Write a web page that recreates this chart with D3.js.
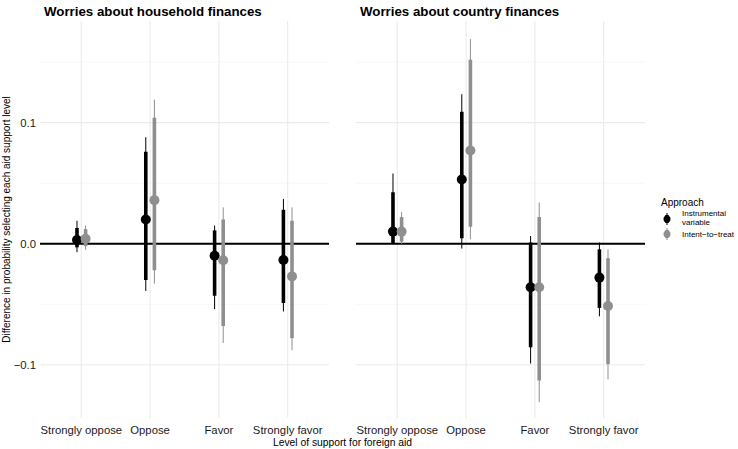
<!DOCTYPE html>
<html>
<head>
<meta charset="utf-8">
<script src="https://cdn.jsdelivr.net/npm/d3@7"></script>
<style>
body { margin: 0; background: #fff; }
svg { font-family: "Liberation Sans", Arial, sans-serif; }
</style>
</head>
<body>
<div id="chart"></div>
<script>
// chart size
var svgWidth = 738, svgHeight = 449;

// data
var panels = ["Worries about household finances", "Worries about country finances"];
var levels = ["Strongly oppose", "Oppose", "Favor", "Strongly favor"];
var approaches = ["Instrumental variable", "Intent-to-treat"];
var yTicks = [-0.1, 0.0, 0.1];

// estimate, thick (inner) interval, thin (outer) interval
// household finances
var hhIvEst   = [0.003, 0.020, -0.010, -0.0135];
var hhIvLo80  = [-0.003, -0.030, -0.043, -0.049];
var hhIvHi80  = [0.013, 0.076, 0.011, 0.028];
var hhIvLo95  = [-0.007, -0.039, -0.054, -0.056];
var hhIvHi95  = [0.019, 0.088, 0.015, 0.037];
var hhItEst   = [0.004, 0.036, -0.0137, -0.027];
var hhItLo80  = [-0.002, -0.022, -0.068, -0.078];
var hhItHi80  = [0.012, 0.104, 0.020, 0.019];
var hhItLo95  = [-0.005, -0.033, -0.082, -0.088];
var hhItHi95  = [0.015, 0.119, 0.030, 0.030];
// country finances
var ctIvEst   = [0.010, 0.053, -0.036, -0.028];
var ctIvLo80  = [0.0005, 0.0045, -0.0856, -0.053];
var ctIvHi80  = [0.0425, 0.109, 0.001, -0.0047];
var ctIvLo95  = [0.000, -0.004, -0.099, -0.060];
var ctIvHi95  = [0.058, 0.1235, 0.0064, 0.001];
var ctItEst   = [0.010, 0.077, -0.036, -0.0515];
var ctItLo80  = [0.0017, 0.014, -0.113, -0.0995];
var ctItHi80  = [0.022, 0.152, 0.022, -0.012];
var ctItLo95  = [0.000, 0.0036, -0.131, -0.112];
var ctItHi95  = [0.026, 0.169, 0.034, -0.0047];

var series = [
  [
    {est: hhIvEst, lo80: hhIvLo80, hi80: hhIvHi80, lo95: hhIvLo95, hi95: hhIvHi95},
    {est: hhItEst, lo80: hhItLo80, hi80: hhItHi80, lo95: hhItLo95, hi95: hhItHi95}
  ],
  [
    {est: ctIvEst, lo80: ctIvLo80, hi80: ctIvHi80, lo95: ctIvLo95, hi95: ctIvHi95},
    {est: ctItEst, lo80: ctItLo80, hi80: ctItHi80, lo95: ctItLo95, hi95: ctItHi95}
  ]
];

var colors = ["#000000", "#8f8f8f"];

var panelLeft = [40, 356];
var panelWidth = 289;
var panelTop = 21, panelBottom = 418;

var svg = d3.select("#chart")
  .append("svg")
  .attr("width", svgWidth)
  .attr("height", svgHeight);

var yScale = d3.scaleLinear()
  .domain([-0.144, 0.184])
  .range([panelBottom, panelTop]);

// side by side offset of the two approaches
var dodge = d3.scaleBand()
  .domain(approaches)
  .range([-8.6, 8.6])
  .paddingInner(0);

panels.forEach(function(title, p) {
  var xScale = d3.scalePoint()
    .domain(levels)
    .range([panelLeft[p], panelLeft[p] + panelWidth])
    .padding(0.6);

  var g = svg.append("g");

  // grid, minor then major
  var minor = [-0.05, 0.05, 0.15];
  g.selectAll(".minor").data(minor).enter().append("line")
    .attr("x1", panelLeft[p]).attr("x2", panelLeft[p] + panelWidth)
    .attr("y1", d => yScale(d)).attr("y2", d => yScale(d))
    .attr("stroke", "#f2f2f2").attr("stroke-width", 0.6);
  g.selectAll(".major").data(yTicks).enter().append("line")
    .attr("x1", panelLeft[p]).attr("x2", panelLeft[p] + panelWidth)
    .attr("y1", d => yScale(d)).attr("y2", d => yScale(d))
    .attr("stroke", "#ebebeb").attr("stroke-width", 1.1);
  g.selectAll(".vgrid").data(levels).enter().append("line")
    .attr("x1", d => xScale(d)).attr("x2", d => xScale(d))
    .attr("y1", panelTop).attr("y2", panelBottom)
    .attr("stroke", "#ebebeb").attr("stroke-width", 1.1);

  // zero line
  g.append("line")
    .attr("x1", panelLeft[p]).attr("x2", panelLeft[p] + panelWidth)
    .attr("y1", yScale(0)).attr("y2", yScale(0))
    .attr("stroke", "#000").attr("stroke-width", 2);

  // title
  g.append("text")
    .attr("x", panelLeft[p] + 4)
    .attr("y", 16)
    .attr("font-size", 13.3)
    .attr("font-weight", "bold")
    .attr("fill", "#000")
    .text(title);

  // x tick labels
  g.selectAll(".xlab").data(levels).enter().append("text")
    .attr("x", d => xScale(d))
    .attr("y", 434)
    .attr("text-anchor", "middle")
    .attr("font-size", 11.3)
    .attr("fill", "#1a1a1a")
    .text(d => d);

  series[p].forEach(function(s, k) {
    var col = colors[k];
    var off = dodge(approaches[k]) + dodge.bandwidth() / 2;
    var grp = g.append("g");
    levels.forEach(function(lv, i) {
      var x = xScale(lv) + off;
      grp.append("line")
        .attr("x1", x).attr("x2", x)
        .attr("y1", yScale(s.lo95[i])).attr("y2", yScale(s.hi95[i]))
        .attr("stroke", col).attr("stroke-width", 1);
      grp.append("line")
        .attr("x1", x).attr("x2", x)
        .attr("y1", yScale(s.lo80[i])).attr("y2", yScale(s.hi80[i]))
        .attr("stroke", col).attr("stroke-width", 3.6);
      grp.append("circle")
        .attr("cx", x).attr("cy", yScale(s.est[i]))
        .attr("r", 5)
        .attr("fill", col);
    });
  });
});

// y axis tick labels
svg.selectAll(".ylab").data(yTicks).enter().append("text")
  .attr("x", 36)
  .attr("y", d => yScale(d) + 4)
  .attr("text-anchor", "end")
  .attr("font-size", 11.3)
  .attr("fill", "#1a1a1a")
  .text(d => d3.format(".1f")(d).replace("-", "\u2212"));

// y axis title
svg.append("text")
  .attr("transform", "translate(10," + ((panelTop + panelBottom) / 2) + ") rotate(-90)")
  .attr("text-anchor", "middle")
  .attr("font-size", 10)
  .attr("fill", "#000")
  .text("Difference in probability selecting each aid support level");

// x axis title
svg.append("text")
  .attr("x", (panelLeft[0] + panelLeft[1] + panelWidth) / 2)
  .attr("y", 446)
  .attr("text-anchor", "middle")
  .attr("font-size", 10.3)
  .attr("fill", "#000")
  .text("Level of support for foreign aid");

// legend
var legend = svg.append("g").attr("transform", "translate(661,0)");
legend.append("text")
  .attr("x", 0).attr("y", 206)
  .attr("font-size", 10)
  .text("Approach");
var legendY = [219, 234];
approaches.forEach(function(a, k) {
  legend.append("line")
    .attr("x1", 6).attr("x2", 6)
    .attr("y1", legendY[k] - 6).attr("y2", legendY[k] + 6)
    .attr("stroke", colors[k]).attr("stroke-width", 1);
  legend.append("line")
    .attr("x1", 6).attr("x2", 6)
    .attr("y1", legendY[k] - 4).attr("y2", legendY[k] + 4)
    .attr("stroke", colors[k]).attr("stroke-width", 3.6);
  legend.append("circle")
    .attr("cx", 6).attr("cy", legendY[k]).attr("r", 3.5)
    .attr("fill", colors[k]);
});
legend.append("text")
  .attr("x", 21).attr("y", 216).attr("font-size", 8)
  .text("Instrumental");
legend.append("text")
  .attr("x", 21).attr("y", 225).attr("font-size", 8)
  .text("variable");
legend.append("text")
  .attr("x", 21).attr("y", 237).attr("font-size", 8)
  .text("Intent\u2212to\u2212treat");
</script>
</body>
</html>
